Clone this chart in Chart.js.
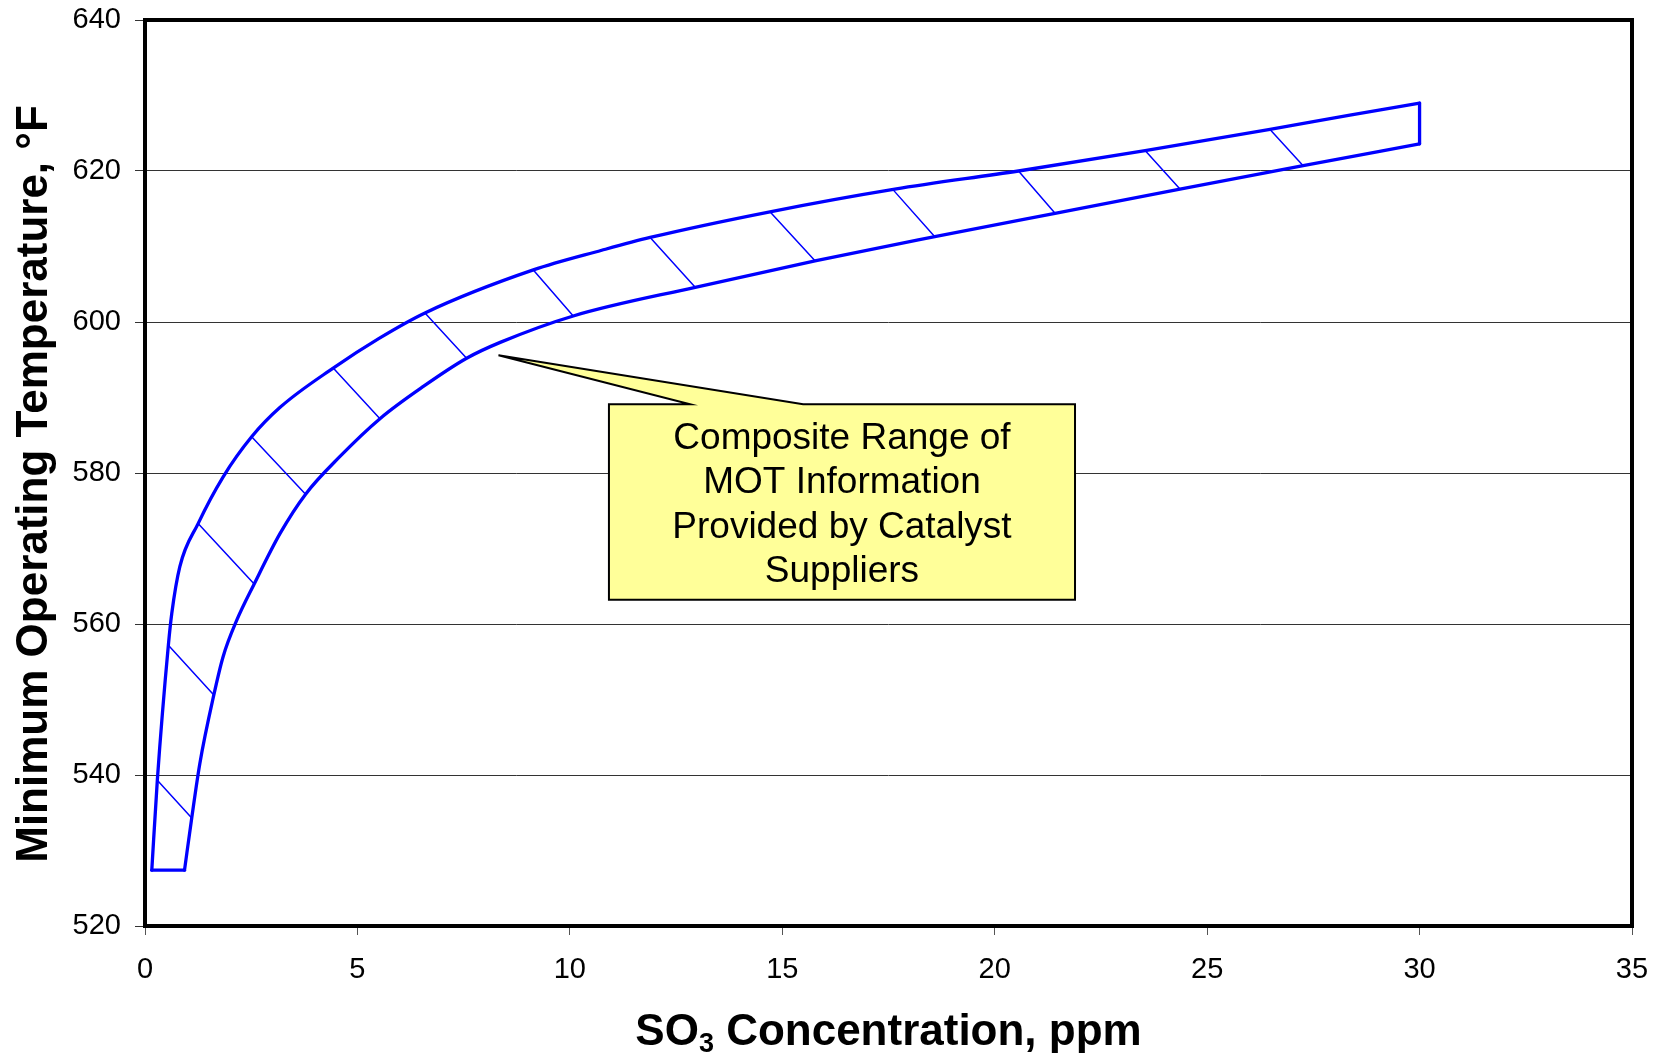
<!DOCTYPE html>
<html>
<head>
<meta charset="utf-8">
<script src="https://cdn.jsdelivr.net/npm/chart.js@4.4.1/dist/chart.umd.min.js"></script>
<style>
  html, body { margin: 0; padding: 0; background: #fff; }
</style>
</head>
<body>
<canvas id="motChart" width="1662" height="1053"></canvas>
<script>
// upper edge of the MOT band (SO3 ppm, deg F)
const upperX = [0.16, 0.29, 0.55, 0.63, 0.82, 1.25, 1.84, 2.51, 3.18, 4.43, 5.5, 6.59, 9.14, 10.75, 11.89, 14.71, 17.65, 20.56, 23.54, 26.48, 28.36, 30];
const upperY = [527.4, 539.3, 557.2, 561.4, 567.6, 573.3, 579.5, 584.8, 588.7, 593.9, 597.8, 601.2, 606.9, 609.5, 611.2, 614.6, 617.6, 620.0, 622.7, 625.5, 627.4, 629.0];

// lower edge of the band
const lowerX = [0.93, 1.10, 1.29, 1.62, 1.84, 2.16, 2.57, 3.18, 3.78, 4.59, 5.53, 6.56, 7.57, 8.36, 10.08, 12.95, 15.77, 18.59, 21.42, 24.36, 27.26, 30];
const lowerY = [527.4, 534.3, 541.5, 550.6, 555.7, 560.5, 565.3, 572.0, 577.2, 582.2, 587.2, 591.5, 595.2, 597.3, 600.8, 604.6, 608.1, 611.3, 614.4, 617.6, 620.7, 623.6];

// end caps closing the band
const bottomCapX = [0.16, 0.93];
const bottomCapY = [527.4, 527.4];
const rightCapX = [30, 30];
const rightCapY = [629.0, 623.6];

// hatch strokes, from upper edge to lower edge
const hatchTopX = [0.29, 0.55, 1.25, 2.51, 4.43, 6.59, 9.14, 11.89, 14.71, 17.61, 20.56, 23.54, 26.48];
const hatchTopY = [539.3, 557.2, 573.3, 584.8, 593.9, 601.2, 606.9, 611.2, 614.6, 617.5, 620.0, 622.7, 625.5];
const hatchBotX = [1.10, 1.62, 2.57, 3.78, 5.53, 7.57, 10.08, 12.95, 15.77, 18.59, 21.42, 24.36, 27.26];
const hatchBotY = [534.3, 550.6, 565.3, 577.2, 587.2, 595.2, 600.8, 604.6, 608.1, 611.3, 614.4, 617.6, 620.7];

const noteLines = ['Composite Range of', 'MOT Information', 'Provided by Catalyst', 'Suppliers'];
const xTitle = ['SO', '3', ' Concentration, ppm'];
const yTitle = 'Minimum Operating Temperature, \u00B0F';

// callout placement in data units
const noteBox = { x1: 10.92, x2: 21.89, top: 589.1, bottom: 563.2 };
const noteTip = { x: 8.32, y: 595.6 };
const noteBase = [12.83, 15.49];

const BLUE = '#0000FF';
const FONT = 'Arial, "Liberation Sans", Helvetica, sans-serif';
Chart.defaults.font.family = FONT;
Chart.defaults.color = '#000';

function pts(xs, ys) {
  return xs.map((x, i) => ({ x: x, y: ys[i] }));
}

const datasets = [
  { data: pts(upperX, upperY), borderWidth: 3.3, cubicInterpolationMode: 'monotone' },
  { data: pts(lowerX, lowerY), borderWidth: 3.3, cubicInterpolationMode: 'monotone' },
  { data: pts(bottomCapX, bottomCapY), borderWidth: 3.3 },
  { data: pts(rightCapX, rightCapY), borderWidth: 3.3 }
];
hatchTopX.forEach((x, i) => {
  datasets.push({
    data: [{ x: x, y: hatchTopY[i] }, { x: hatchBotX[i], y: hatchBotY[i] }],
    borderWidth: 1.5
  });
});
datasets.forEach(d => {
  d.showLine = true;
  d.borderColor = BLUE;
  d.pointRadius = 0;
  d.borderJoinStyle = 'round';
  d.borderCapStyle = 'round';
});

const decor = {
  id: 'decor',
  afterDatasetsDraw(chart) {
    const ctx = chart.ctx;
    const a = chart.chartArea;
    const x = chart.scales.x, y = chart.scales.y;

    // callout box with pointer
    const L = x.getPixelForValue(noteBox.x1), R = x.getPixelForValue(noteBox.x2);
    const T = y.getPixelForValue(noteBox.top), B = y.getPixelForValue(noteBox.bottom);
    ctx.save();
    ctx.beginPath();
    ctx.moveTo(L, T);
    ctx.lineTo(x.getPixelForValue(noteBase[0]), T);
    ctx.lineTo(x.getPixelForValue(noteTip.x), y.getPixelForValue(noteTip.y));
    ctx.lineTo(x.getPixelForValue(noteBase[1]), T);
    ctx.lineTo(R, T);
    ctx.lineTo(R, B);
    ctx.lineTo(L, B);
    ctx.closePath();
    ctx.fillStyle = '#FFFF99';
    ctx.fill();
    ctx.lineWidth = 2;
    ctx.strokeStyle = '#000';
    ctx.lineJoin = 'miter';
    ctx.stroke();

    ctx.fillStyle = '#000';
    ctx.font = '37px ' + FONT;
    ctx.textAlign = 'center';
    ctx.textBaseline = 'middle';
    const cx = (L + R) / 2;
    const step = 44.5;
    const first = (T + B) / 2 + 3 - step * (noteLines.length - 1) / 2;
    noteLines.forEach((t, i) => ctx.fillText(t, cx, first + i * step));
    ctx.restore();

    // plot frame
    ctx.save();
    ctx.lineWidth = 4;
    ctx.strokeStyle = '#000';
    ctx.strokeRect(a.left, a.top, a.right - a.left, a.bottom - a.top);
    ctx.restore();
  },
  afterDraw(chart) {
    const ctx = chart.ctx;
    const a = chart.chartArea;
    ctx.save();
    ctx.fillStyle = '#000';
    ctx.textBaseline = 'alphabetic';

    // x axis title with subscript
    const big = 'bold 44px ' + FONT, small = 'bold 27px ' + FONT;
    ctx.font = big;
    const w0 = ctx.measureText(xTitle[0]).width;
    const w2 = ctx.measureText(xTitle[2]).width;
    ctx.font = small;
    const w1 = ctx.measureText(xTitle[1]).width;
    let px = (a.left + a.right) / 2 - (w0 + w1 + w2) / 2;
    const base = 1045;
    ctx.textAlign = 'left';
    ctx.font = big;
    ctx.fillText(xTitle[0], px, base);
    px += w0;
    ctx.font = small;
    ctx.fillText(xTitle[1], px, base + 7);
    px += w1;
    ctx.font = big;
    ctx.fillText(xTitle[2], px, base);

    // y axis title
    ctx.translate(47, 484);
    ctx.rotate(-Math.PI / 2);
    ctx.textAlign = 'center';
    ctx.font = big;
    ctx.fillText(yTitle, 0, 0);
    ctx.restore();
  }
};

new Chart(document.getElementById('motChart'), {
  type: 'scatter',
  data: { datasets: datasets },
  options: {
    responsive: false,
    devicePixelRatio: 1,
    animation: false,
    layout: { padding: { top: 20, right: 30, bottom: 0, left: 0 } },
    plugins: { legend: { display: false }, tooltip: { enabled: false } },
    scales: {
      x: {
        type: 'linear',
        min: 0,
        max: 35,
        ticks: { stepSize: 5, padding: 18, font: { size: 29 }, color: '#000' },
        grid: { drawOnChartArea: false, drawTicks: true, tickLength: 9, color: '#555' },
        border: { display: false },
        afterFit(s) {
          s.height = 127;
          s.paddingLeft = 0;
          s.paddingRight = 0;
        }
      },
      y: {
        min: 520,
        max: 640,
        ticks: { stepSize: 20, padding: 14, font: { size: 29 }, color: '#000' },
        grid: { tickLength: 10, color: '#333' },
        border: { display: false },
        afterFit(s) {
          s.width = 145;
          s.paddingTop = 0;
          s.paddingBottom = 0;
        }
      }
    }
  },
  plugins: [decor]
});
</script>
</body>
</html>
